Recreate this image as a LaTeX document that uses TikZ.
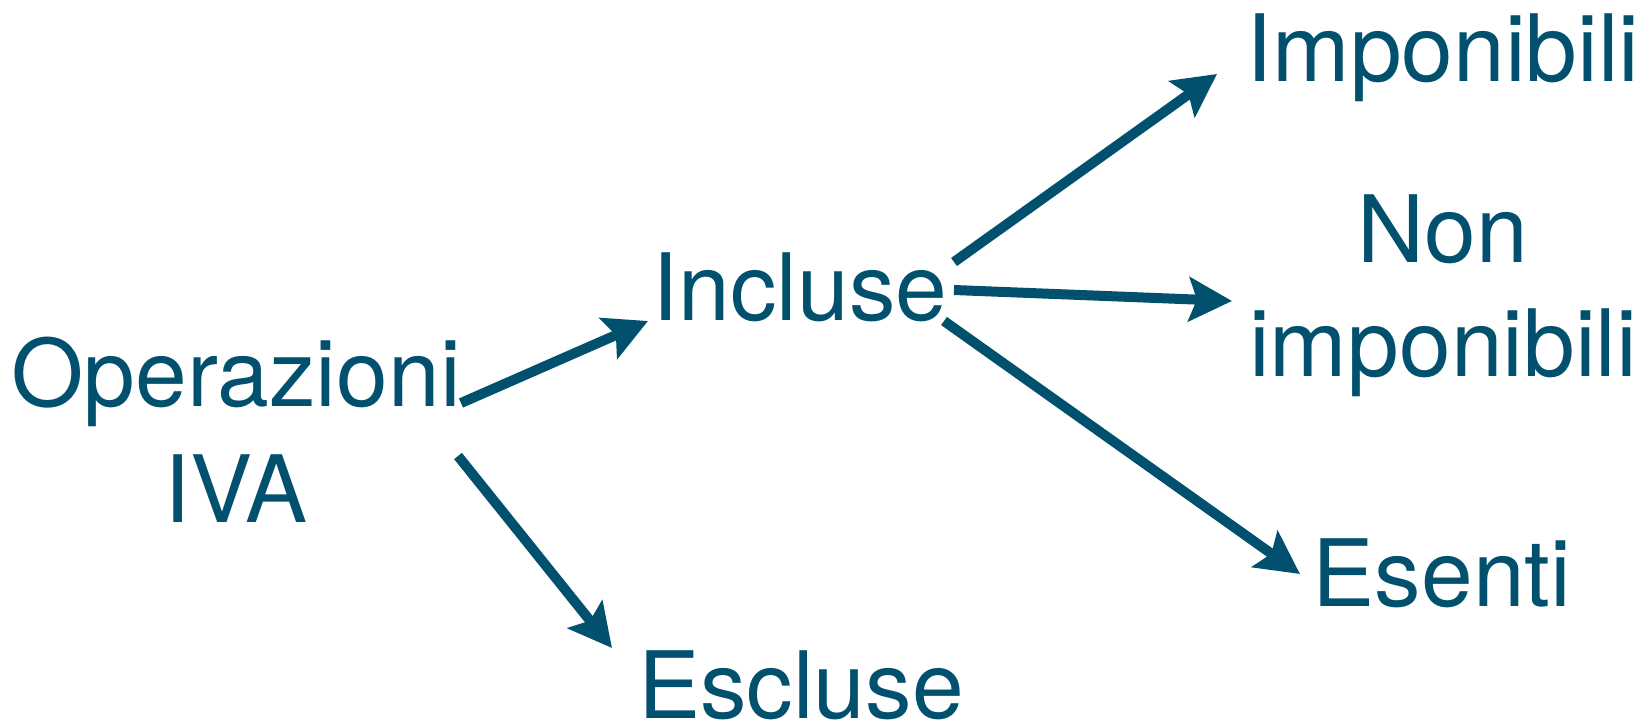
\documentclass[tikz,border=0pt]{standalone}
\usepackage{fontspec}
\setmainfont{TeX Gyre Heros}
\usetikzlibrary{arrows.meta,calc}
\definecolor{iva}{RGB}{0,80,110}
\begin{document}
\begin{tikzpicture}[x=1pt,y=-1pt,
  lbl/.style={inner sep=0pt, text=iva, font=\fontsize{93}{115}\selectfont, align=center},
  arr/.style={draw=iva, line width=10pt, -{Stealth[length=43pt,width=44pt,inset=8pt]}}]
\useasboundingbox (0,0) rectangle (1647,726);
\node[lbl, anchor=base, font=\fontsize{93}{116}\selectfont] (op) at (236,522) {Operazioni\\IVA};
\node[lbl, anchor=base] (inc) at (800,320) {Incluse};
\node[lbl, anchor=base] (esc) at (801,718) {Escluse};
\node[lbl, anchor=base] (imp) at (1443,81) {Imponibili};
\node[lbl, anchor=base, font=\fontsize{93}{114}\selectfont] (non) at (1443,376) {Non\\imponibili};
\node[lbl, anchor=base] (es) at (1442,606) {Esenti};
\draw[arr] ($(op.base)+(225,-119)$) -- ($(inc.base)+(-152,1)$);
\draw[arr] ($(op.base)+(222,-66)$) -- ($(esc.base)+(-189,-70)$);
\draw[arr] ($(inc.base)+(154,-58)$) -- ($(imp.base)+(-226,-7)$);
\draw[arr] ($(inc.base)+(154,-30)$) -- ($(non.base)+(-211,-75)$);
\draw[arr] ($(inc.base)+(144,1)$) -- ($(es.base)+(-142,-32)$);
\end{tikzpicture}
\end{document}
